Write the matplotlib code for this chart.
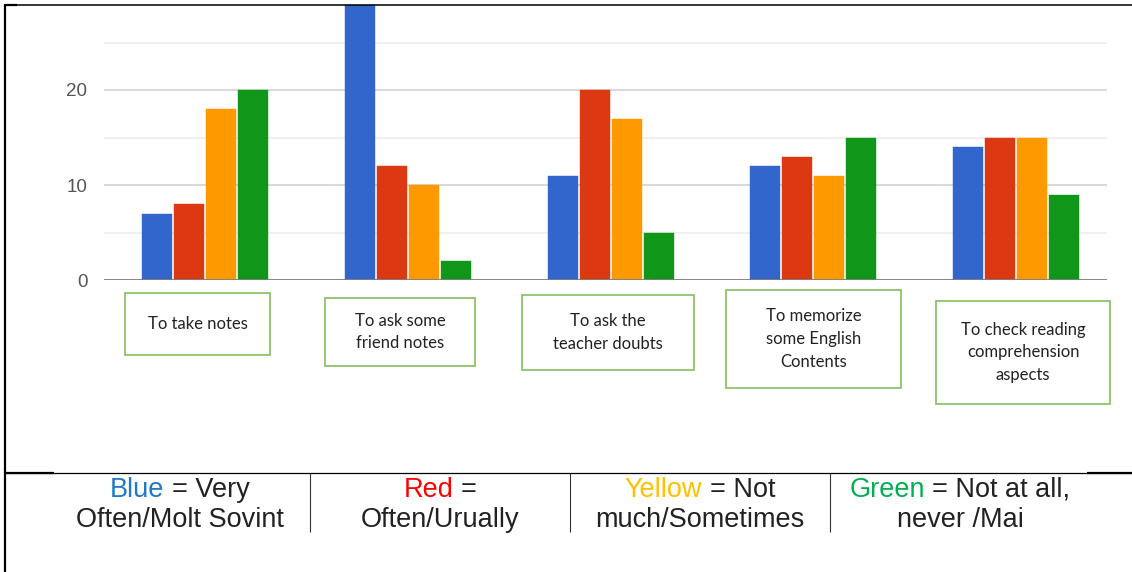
import matplotlib
matplotlib.use('Agg')
import matplotlib.pyplot as plt
from matplotlib.patches import Rectangle
from matplotlib.lines import Line2D
import numpy as np

W, H = 1132, 572

categories = ['To take notes', 'To ask some\nfriend notes', 'To ask the\nteacher doubts',
              'To memorize\nsome English\nContents', 'To check reading\ncomprehension\naspects']
very_often = [7, 29, 11, 12, 14]
often = [8, 12, 20, 13, 15]
not_much = [18, 10, 17, 11, 15]
never = [20, 2, 5, 15, 9]
series = [very_often, often, not_much, never]
bar_colors = ['#3366cc', '#dc3912', '#ff9900', '#109618']

major_ticks = [0, 10, 20]
minor_ticks = [5, 15, 25]

key_words = ['Blue', 'Red', 'Yellow', 'Green']
key_colors = ['#1f78c8', '#ff0000', '#ffc000', '#00b050']
key_rest = ['= Very', '=', '= Not', '= Not at all,']
key_second = ['Often/Molt Sovint', 'Often/Urually', 'much/Sometimes', 'never /Mai']

# label boxes under the bars, in pixels: left, top, right, bottom
boxes = [(125, 293, 270, 355), (325, 298, 475, 366), (522, 295, 694, 370),
         (726, 290, 901, 388), (936, 301, 1110, 404)]
key_centers = [180, 440, 700, 960]


def fx(x):
    return x / W


def fy(y):
    return 1 - y / H


fig = plt.figure(figsize=(W / 100, H / 100), dpi=100)
fig.patch.set_facecolor('white')

# chart area: zero line at y=280 px, 30 sits just above the top edge
ax = fig.add_axes([fx(104), fy(280), (1107 - 104) / W, 285 / H])
ax.set_xlim(-0.5, 4.45)
ax.set_ylim(0, 30)

x = np.arange(len(categories))
step = 0.158
bw = 0.148
for i, (vals, c) in enumerate(zip(series, bar_colors)):
    ax.bar(x + (i - 1.5) * step, vals, width=bw, color=c, zorder=2,
           edgecolor=c, linewidth=0.3)

ax.set_yticks(major_ticks)
ax.set_yticks(minor_ticks, minor=True)
ax.set_yticklabels([str(t) for t in major_ticks], fontfamily='Liberation Sans',
                   fontsize=13.5, color='#555555')
ax.tick_params(axis='y', which='both', length=0, pad=12)
ax.set_xticks([])
ax.grid(axis='y', which='major', color='#d6d6d6', linewidth=1.3, zorder=0)
ax.grid(axis='y', which='minor', color='#efefef', linewidth=1.3, zorder=0)
ax.axhline(0, color='#808080', linewidth=2, zorder=3)
for s in ax.spines.values():
    s.set_visible(False)

# category boxes
for (l, t, r, b), label in zip(boxes, categories):
    fig.add_artist(Rectangle((fx(l), fy(b)), (r - l) / W, (b - t) / H,
                             transform=fig.transFigure, facecolor='white',
                             edgecolor='#85be5e', linewidth=1.2))
    fig.text(fx((l + r) / 2), fy((t + b) / 2), label, ha='center', va='center',
             fontfamily='Lato', fontsize=12, color='#222222', linespacing=1.52)

# frame lines
def hline(y, x0, x1, lw, color='black'):
    fig.add_artist(Line2D([fx(x0), fx(x1)], [fy(y), fy(y)], transform=fig.transFigure,
                          color=color, linewidth=lw, solid_capstyle='butt'))


def vline(x0, y0, y1, lw, color='black'):
    fig.add_artist(Line2D([fx(x0), fx(x0)], [fy(y0), fy(y1)], transform=fig.transFigure,
                          color=color, linewidth=lw, solid_capstyle='butt'))


vline(5, 4, 572, 1.6)
hline(5, 5, 1132, 1.1)
hline(5, 5, 17, 1.6)
hline(473, 5, 1132, 0.9)
hline(473, 5, 54, 1.6)
hline(473, 1087, 1132, 1.6)
for sx in [310, 570, 830]:
    vline(sx, 473, 532, 0.8, '#333333')

# colour key table
renderer = fig.canvas.get_renderer()
key_font = dict(fontfamily='Liberation Sans', fontsize=19.5)
for cx, word, col, rest, second in zip(key_centers, key_words, key_colors, key_rest, key_second):
    probe = fig.text(0, 0, word + ' ' + rest, **key_font)
    full_w = probe.get_window_extent(renderer).width
    probe.remove()
    left = cx - full_w / 2
    fig.text(fx(left), fy(497), word, ha='left', va='baseline', color=col, **key_font)
    fig.text(fx(left + full_w), fy(497), rest, ha='right', va='baseline',
             color='#222222', **key_font)
    fig.text(fx(cx), fy(527), second, ha='center', va='baseline', color='#222222', **key_font)

fig.savefig('out.png', dpi=100, facecolor='white')
